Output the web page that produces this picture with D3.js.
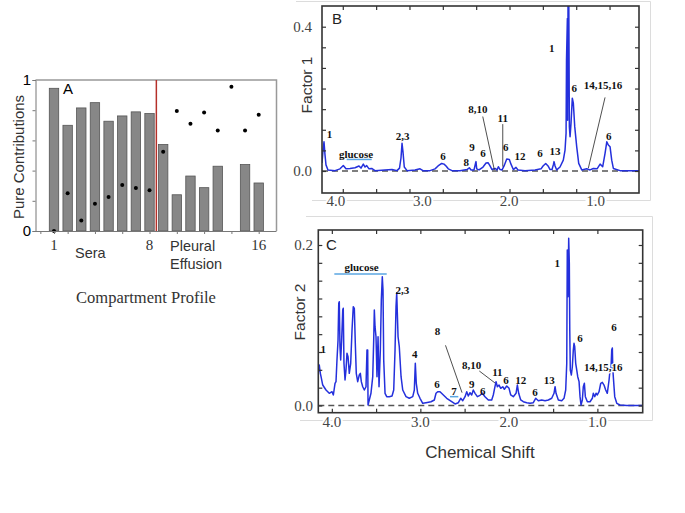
<!DOCTYPE html>
<html>
<head>
<meta charset="utf-8">
<script src="https://cdn.jsdelivr.net/npm/d3@7"></script>
<style>
  body { margin: 0; background: #fff; }
  svg { display: block; }
  .sans { font-family: "Liberation Sans", Arial, sans-serif; }
  .serif { font-family: "Liberation Serif", "Times New Roman", serif; }
  .ann { font-family: "Liberation Serif", "Times New Roman", serif; font-weight: bold; font-size: 11px; fill: #111; }
</style>
</head>
<body>
<svg width="685" height="513"></svg>
<script>
/////////////
// DATA    //
/////////////

// panel A : compartment profile
let sampleIds = [1, 2, 3, 4, 5, 6, 7, 8, 9, 10, 11, 12, 13, 14, 15, 16];
let barValues = [0.945, 0.70, 0.815, 0.85, 0.727, 0.762, 0.789, 0.778, 0.573, 0.24, 0.364, 0.287, 0.429, 0, 0.44, 0.318];
let dotValues = [0.0, 0.25, 0.07, 0.18, 0.225, 0.305, 0.285, 0.27, 0.525, 0.795, 0.71, 0.785, 0.665, 0.955, 0.665, 0.77];
let sampleLabels = [[1, "1"], [8, "8"], [16, "16"]];

// panel B : factor 1 spectrum (ppm, intensity)
let f1Ppm = [4.160,4.148,4.137,4.125,4.114,4.091,4.010,3.952,3.914,3.883,
  3.837,3.779,3.733,3.710,3.683,3.663,3.644,3.617,3.586,3.548,
  3.433,3.352,3.294,3.265,3.248,3.236,3.225,3.210,3.178,3.086,
  3.028,2.994,2.913,2.855,2.820,2.778,2.751,2.728,2.702,2.659,
  2.567,2.486,2.459,2.439,2.405,2.387,2.382,2.374,2.347,2.301,
  2.266,2.243,2.220,2.197,2.162,2.139,2.124,2.104,2.081,2.058,
  2.027,1.997,1.978,1.951,1.920,1.897,1.816,1.700,1.631,1.608,
  1.577,1.550,1.527,1.504,1.487,1.481,1.469,1.450,1.412,1.374,
  1.354,1.342,1.337,1.327,1.324,1.319,1.311,1.304,1.296,1.285,
  1.270,1.258,1.242,1.219,1.196,1.161,1.104,1.065,1.027,0.984,
  0.949,0.919,0.892,0.872,0.854,0.834,0.815,0.796,0.719,0.569,
  0.500];
let f1Val = [0.022,0.058,0.081,0.044,0.017,0.003,0.001,0.006,0.015,0.006,
  0.007,0.009,0.014,0.008,0.019,0.011,0.015,0.006,0.007,0.001,
  0.003,0.004,0.001,0.008,0.036,0.077,0.053,0.011,0.001,0.003,
  0.006,0.001,0.001,0.006,0.014,0.021,0.019,0.014,0.006,0.001,
  0.001,0.004,0.009,0.003,0.003,0.022,0.026,0.006,0.003,0.011,
  0.022,0.023,0.014,0.004,0.007,0.003,0.012,0.004,0.003,0.014,
  0.033,0.032,0.019,0.004,0.010,0.003,0.001,0.003,0.006,0.014,
  0.021,0.014,0.004,0.004,0.019,0.026,0.014,0.003,0.011,0.030,
  0.058,0.105,0.308,0.423,0.141,0.5,0.5,0.123,0.095,0.132,
  0.202,0.188,0.123,0.067,0.021,0.003,0.006,0.003,0.007,0.006,
  0.019,0.012,0.049,0.081,0.072,0.067,0.030,0.007,0.001,0.001,
  0.001];

// panel C : factor 2 spectrum (ppm, intensity)
let f2Ppm = [4.151,4.142,4.130,4.122,4.103,4.066,4.029,3.998,3.983,3.964,
  3.953,3.942,3.930,3.922,3.916,3.908,3.900,3.889,3.877,3.871,
  3.863,3.851,3.840,3.829,3.817,3.803,3.787,3.772,3.758,3.746,
  3.735,3.724,3.708,3.690,3.678,3.667,3.651,3.633,3.614,3.603,
  3.595,3.591,3.577,3.558,3.538,3.527,3.520,3.512,3.501,3.490,
  3.478,3.467,3.452,3.441,3.430,3.422,3.414,3.399,3.380,3.351,
  3.320,3.301,3.286,3.275,3.267,3.260,3.252,3.238,3.218,3.199,
  3.162,3.125,3.086,3.068,3.057,3.046,3.030,3.004,2.973,2.936,
  2.880,2.842,2.823,2.804,2.778,2.740,2.702,2.646,2.608,2.571,
  2.544,2.521,2.495,2.476,2.458,2.439,2.420,2.402,2.382,2.356,
  2.326,2.300,2.270,2.232,2.194,2.176,2.157,2.145,2.130,2.111,
  2.092,2.069,2.051,2.024,1.998,1.979,1.950,1.919,1.904,1.889,
  1.866,1.837,1.798,1.761,1.724,1.697,1.667,1.629,1.591,1.554,
  1.516,1.490,1.478,1.467,1.441,1.403,1.377,1.358,1.346,1.340,
  1.332,1.324,1.317,1.312,1.306,1.294,1.283,1.272,1.264,1.256,
  1.245,1.233,1.222,1.207,1.196,1.185,1.170,1.159,1.147,1.136,
  1.113,1.083,1.057,1.046,1.030,1.015,1.001,0.981,0.962,0.944,
  0.925,0.906,0.888,0.868,0.857,0.846,0.838,0.831,0.826,0.820,
  0.804,0.781,0.744,0.668,0.488];
let f2Val = [0.0421,0.0505,0.0401,0.0359,0.0255,0.0193,0.0152,0.0172,0.0131,0.0277,
  0.0297,0.0567,0.0816,0.1274,0.1294,0.0733,0.0567,0.0816,0.1190,0.1211,
  0.0526,0.0318,0.0442,0.0650,0.0608,0.0401,0.0526,0.0941,0.1231,0.1211,
  0.0775,0.0401,0.0297,0.0380,0.0401,0.0297,0.0234,0.0193,0.0234,0.0692,
  0.0692,0.0006,0.0069,0.0152,0.0359,0.0816,0.1190,0.0982,0.0857,0.0359,
  0.0857,0.0234,0.0692,0.1315,0.1605,0.1439,0.0567,0.0152,0.0110,0.0110,
  0.0118,0.0193,0.0692,0.1231,0.1406,0.1149,0.0857,0.0733,0.0359,0.0193,
  0.0110,0.0090,0.0110,0.0193,0.0526,0.0277,0.0152,0.0090,0.0027,0.0035,
  0.0047,0.0069,0.0152,0.0172,0.0172,0.0131,0.0090,0.0047,0.0019,0.0035,
  0.0090,0.0060,0.0110,0.0172,0.0118,0.0160,0.0131,0.0193,0.0152,0.0110,
  0.0127,0.0152,0.0110,0.0069,0.0069,0.0131,0.0234,0.0297,0.0234,0.0255,
  0.0214,0.0234,0.0202,0.0243,0.0214,0.0131,0.0110,0.0152,0.0255,0.0152,
  0.0069,0.0047,0.0035,0.0027,0.0035,0.0090,0.0060,0.0069,0.0060,0.0069,
  0.0090,0.0152,0.0234,0.0152,0.0069,0.0060,0.0090,0.0193,0.0526,0.1938,
  0.1356,0.2083,0.1772,0.0941,0.0442,0.0380,0.0483,0.0692,0.0775,0.0733,
  0.0526,0.0442,0.0359,0.0297,0.0110,0.0006,0.0069,0.0234,0.0277,0.0110,
  0.0047,0.0047,0.0090,0.0152,0.0110,0.0152,0.0131,0.0172,0.0277,0.0289,
  0.0255,0.0193,0.0152,0.0318,0.0442,0.0464,0.0692,0.0717,0.0464,0.0359,
  0.0110,0.0027,0.0006,0,0];

// tick labels
let ppmTickLabels = [[4, "4.0"], [3, "3.0"], [2, "2.0"], [1, "1.0"]];
let f1TickLabels = [[0.4, "0.4"], [0, "0.0"]];
let f2TickLabels = [[0.2, "0.2"], [0, "0.0"]];

// peak annotations [text, ppm, intensity]
let f1Notes = [["1", 4.073, 0.103], ["glucose", 3.767, 0.046], ["2,3", 3.230, 0.096], ["6", 2.763, 0.040],
  ["8", 2.494, 0.024], ["9", 2.428, 0.067], ["6", 2.301, 0.049], ["8,10", 2.359, 0.172], ["11", 2.073, 0.147],
  ["6", 2.039, 0.067], ["12", 1.874, 0.040], ["6", 1.643, 0.050], ["13", 1.470, 0.054], ["1", 1.508, 0.340],
  ["6", 1.247, 0.229], ["14,15,16", 0.915, 0.238], ["6", 0.849, 0.097]];
let f1Leaders = [[2.304, 0.151, 2.170, 0.003], [2.073, 0.130, 2.073, 0.012], [0.892, 0.204, 1.085, 0.008]];
let f1Spans = [[3.875, 3.586, 0.032]];

let f2Notes = [["glucose", 3.665, 0.172], ["2,3", 3.202, 0.144], ["1", 4.097, 0.070], ["4", 3.063, 0.064],
  ["8", 2.806, 0.093], ["6", 2.812, 0.027], ["7", 2.620, 0.018], ["9", 2.420, 0.027], ["6", 2.295, 0.018],
  ["8,10", 2.420, 0.050], ["11", 2.130, 0.041], ["6", 2.032, 0.031], ["12", 1.866, 0.031], ["6", 1.704, 0.017],
  ["13", 1.543, 0.031], ["1", 1.452, 0.178], ["6", 1.196, 0.084], ["14,15,16", 0.933, 0.048], ["6", 0.812, 0.098]];
let f2Leaders = [[2.716, 0.075, 2.529, 0.016], [2.334, 0.043, 2.156, 0.028]];
let f2Spans = [[3.972, 3.380, 0.164], [2.665, 2.571, 0.011]];

/////////////
// DRAW    //
/////////////

let svg = d3.select("svg");

// faint image borders around the pasted spectra
let border = svg.append("g").attr("stroke", "#dcdcdc").attr("fill", "none");
border.append("path").attr("d", "M296,1.5H650.5V200.5H312");
border.append("path").attr("d", "M306,216.5H652.5V420.5H300");

// ---- panel A ----
let gA = svg.append("g");
let xA = d3.scaleLinear().domain([1, 16]).range([54, 258.7]);
let yA = d3.scaleLinear().domain([0, 1]).range([231, 80]);

gA.append("path")
  .attr("d", `M35.5,${yA(1)}H276.5V${yA(0)}`)
  .attr("fill", "none").attr("stroke", "#999").attr("stroke-width", 1.5);

gA.selectAll("rect.bar")
  .data(sampleIds)
  .enter().append("rect")
  .attr("class", "bar")
  .attr("x", d => xA(d) - 4.7)
  .attr("width", 9.4)
  .attr("y", (d, i) => yA(barValues[i]))
  .attr("height", (d, i) => yA(0) - yA(barValues[i]))
  .attr("fill", "#878787")
  .attr("stroke", "#555")
  .attr("stroke-width", 0.8);

gA.append("line")
  .attr("x1", xA(8.5)).attr("x2", xA(8.5))
  .attr("y1", yA(1)).attr("y2", yA(0))
  .attr("stroke", "#b5302a").attr("stroke-width", 1.5);

gA.selectAll("circle")
  .data(sampleIds)
  .enter().append("circle")
  .attr("cx", d => xA(d))
  .attr("cy", (d, i) => yA(dotValues[i]))
  .attr("r", 2)
  .attr("fill", "#000");

let axA = gA.append("g")
  .attr("transform", "translate(35.5,0)")
  .call(d3.axisLeft(yA).tickValues([0, 0.2, 0.4, 0.6, 0.8, 1]).tickSize(3).tickFormat(""));
axA.select(".domain").attr("stroke", "#777");
axA.selectAll(".tick line").attr("stroke", "#777");

let axAx = gA.append("g")
  .attr("transform", `translate(0,${yA(0)})`)
  .call(d3.axisBottom(xA).tickValues([0, 1, 2, 4, 6, 8, 10, 12, 14, 16]).tickSize(3).tickFormat(""));
axAx.select(".domain").remove();
axAx.selectAll(".tick line").attr("stroke", "#777");
gA.append("line").attr("x1", 35).attr("x2", 276.5).attr("y1", yA(0) + 0.5).attr("y2", yA(0) + 0.5)
  .attr("stroke", "#777");

gA.selectAll("text.ylab")
  .data([[1, "1"], [0, "0"]])
  .enter().append("text")
  .attr("class", "sans")
  .attr("x", 31).attr("y", d => yA(d[0]) + 5)
  .attr("text-anchor", "end")
  .attr("font-size", 15)
  .text(d => d[1]);

gA.selectAll("text.xlab")
  .data(sampleLabels)
  .enter().append("text")
  .attr("class", "serif")
  .attr("x", d => xA(d[0])).attr("y", 250)
  .attr("text-anchor", "middle")
  .attr("font-size", 15)
  .attr("fill", "#333")
  .text(d => d[1]);

gA.append("text").attr("class", "sans").attr("x", 63).attr("y", 94).attr("font-size", 15).text("A");
gA.append("text").attr("class", "sans").attr("x", 75).attr("y", 258).attr("font-size", 14.5).attr("fill", "#333").text("Sera");
gA.append("text").attr("class", "sans").attr("x", 170).attr("y", 251).attr("font-size", 14.5).attr("fill", "#333").text("Pleural");
gA.append("text").attr("class", "sans").attr("x", 170).attr("y", 269).attr("font-size", 14.5).attr("fill", "#333").text("Effusion");
gA.append("text").attr("class", "sans")
  .attr("transform", "translate(19,157) rotate(-90)")
  .attr("text-anchor", "middle").attr("dy", "0.35em")
  .attr("font-size", 15).attr("fill", "#333")
  .text("Pure Contributions");
gA.append("text").attr("class", "serif")
  .attr("x", 146).attr("y", 303)
  .attr("text-anchor", "middle")
  .attr("font-size", 16.5).attr("fill", "#333")
  .text("Compartment Profile");

// ---- spectrum panels ----
function spectrum(o) {
  let g = svg.append("g");
  let x = d3.scaleLinear().domain(o.ppmDomain).range([o.left, o.right]);
  let y = d3.scaleLinear().domain([0, o.topValue]).range([o.zeroY, o.topY]);

  let clipId = "clip" + o.id;
  g.append("clipPath").attr("id", clipId)
    .append("rect")
    .attr("x", o.left).attr("y", o.top)
    .attr("width", o.right - o.left).attr("height", o.bottom - o.top);

  // dashed zero line
  g.append("line")
    .attr("x1", o.left).attr("x2", o.right)
    .attr("y1", y(0)).attr("y2", y(0))
    .attr("stroke", "#555").attr("stroke-width", 1.3)
    .attr("stroke-dasharray", "6,4");

  // the spectrum
  let line = d3.line()
    .x(i => x(o.ppm[i]))
    .y(i => y(o.val[i]));
  g.append("path")
    .datum(d3.range(o.ppm.length))
    .attr("clip-path", `url(#${clipId})`)
    .attr("d", line)
    .attr("fill", "none")
    .attr("stroke", "#2430dc")
    .attr("stroke-width", 1.5)
    .attr("stroke-linejoin", "round");

  // frame and inward ticks
  g.append("rect")
    .attr("x", o.left).attr("y", o.top)
    .attr("width", o.right - o.left).attr("height", o.bottom - o.top)
    .attr("fill", "none").attr("stroke", "#333").attr("stroke-width", 1.6);

  let tickSets = [
    [d3.axisLeft(y).tickValues(o.yTicks).tickSize(-4), `translate(${o.left},0)`],
    [d3.axisRight(y).tickValues(o.yTicks).tickSize(-4), `translate(${o.right},0)`],
    [d3.axisTop(x).tickValues(o.xTicks).tickSize(-4), `translate(0,${o.top})`],
    [d3.axisBottom(x).tickValues(o.xTicks).tickSize(-4), `translate(0,${o.bottom})`]
  ];
  for (let t of tickSets) {
    let a = g.append("g").attr("transform", t[1]).call(t[0].tickFormat(""));
    a.select(".domain").remove();
    a.selectAll(".tick line").attr("stroke", "#333").attr("stroke-width", 1.2);
  }

  // tick labels
  g.selectAll("text.xt")
    .data(ppmTickLabels)
    .enter().append("text")
    .attr("class", "serif")
    .attr("x", d => x(d[0])).attr("y", o.xLabelY)
    .attr("text-anchor", "middle")
    .attr("font-size", 15).attr("fill", "#444")
    .attr("stroke", "#fff").attr("stroke-width", 4).attr("paint-order", "stroke")
    .text(d => d[1]);
  g.selectAll("text.yt")
    .data(o.yLabels)
    .enter().append("text")
    .attr("class", "serif")
    .attr("x", o.yLabelX).attr("y", d => y(d[0]))
    .attr("dy", "0.35em")
    .attr("text-anchor", "end")
    .attr("font-size", 15).attr("fill", "#444")
    .text(d => d[1]);

  g.append("text").attr("class", "sans")
    .attr("x", o.letterX).attr("y", o.letterY)
    .attr("font-size", 15).attr("fill", "#222")
    .text(o.letter);
  g.append("text").attr("class", "sans")
    .attr("transform", `translate(${o.titleX},${o.titleY}) rotate(-90)`)
    .attr("text-anchor", "middle").attr("dy", "0.35em")
    .attr("font-size", 15.5).attr("fill", "#333")
    .text(o.title);

  // annotations
  g.selectAll("line.lead")
    .data(o.leaders)
    .enter().append("line")
    .attr("x1", d => x(d[0])).attr("y1", d => y(d[1]))
    .attr("x2", d => x(d[2])).attr("y2", d => y(d[3]))
    .attr("stroke", "#222").attr("stroke-width", 0.8);
  g.selectAll("line.span")
    .data(o.spans)
    .enter().append("line")
    .attr("x1", d => x(d[0])).attr("x2", d => x(d[1]))
    .attr("y1", d => y(d[2])).attr("y2", d => y(d[2]))
    .attr("stroke", "#5aa6e2").attr("stroke-width", 1.5);
  g.selectAll("text.ann")
    .data(o.notes)
    .enter().append("text")
    .attr("class", "ann")
    .attr("x", d => x(d[1])).attr("y", d => y(d[2]))
    .attr("dy", "0.35em")
    .attr("text-anchor", "middle")
    .attr("stroke", "#fff").attr("stroke-width", d => d[0] === "14,15,16" ? 2.5 : 0)
    .attr("paint-order", "stroke")
    .text(d => d[0]);
}

spectrum({
  id: "B", ppm: f1Ppm, val: f1Val,
  ppmDomain: [4.16, 0.50], left: 322, right: 639, top: 6, bottom: 193,
  topValue: 0.4, zeroY: 171, topY: 26.7,
  yTicks: d3.range(0, 8).map(k => k * 0.4 / 7),
  xTicks: [3.92, 3.535, 3.15, 2.765, 2.38, 1.995, 1.61, 1.225, 0.84],
  yLabels: f1TickLabels, yLabelX: 312, xLabelY: 206,
  letter: "B", letterX: 332, letterY: 24,
  title: "Factor 1", titleX: 307, titleY: 85,
  notes: f1Notes, leaders: f1Leaders, spans: f1Spans
});

spectrum({
  id: "C", ppm: f2Ppm, val: f2Val,
  ppmDomain: [4.153, 0.488], left: 318.3, right: 642.7, top: 230, bottom: 412.7,
  topValue: 0.2, zeroY: 405.5, topY: 245,
  yTicks: d3.range(0, 10).map(k => k * 0.2 / 9),
  xTicks: [4.0, 3.5, 3.0, 2.5, 2.0, 1.5, 1.0],
  yLabels: f2TickLabels, yLabelX: 313, xLabelY: 427,
  letter: "C", letterX: 326, letterY: 250,
  title: "Factor 2", titleX: 300, titleY: 312,
  notes: f2Notes, leaders: f2Leaders, spans: f2Spans
});

svg.append("text").attr("class", "sans")
  .attr("x", 480).attr("y", 458)
  .attr("text-anchor", "middle")
  .attr("font-size", 17).attr("fill", "#333")
  .text("Chemical Shift");
</script>
</body>
</html>
